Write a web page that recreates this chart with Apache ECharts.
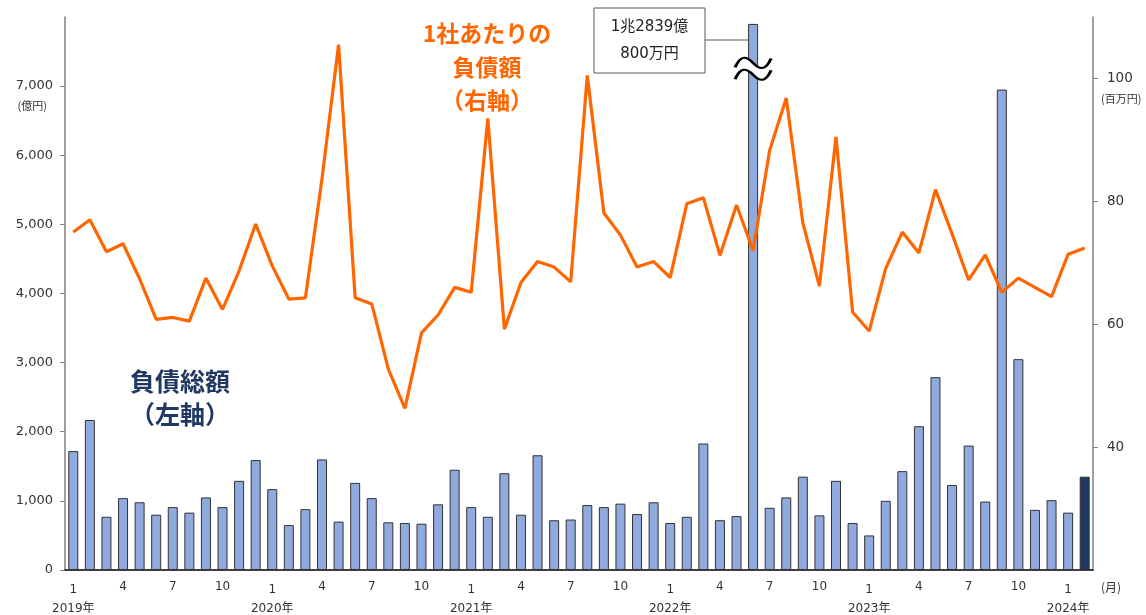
<!DOCTYPE html>
<html>
<head>
<meta charset="utf-8">
<script src="https://cdn.jsdelivr.net/npm/echarts@6/dist/echarts.min.js"></script>
<style>
  html, body { margin: 0; padding: 0; background: #fff; }
  #chart { width: 1146px; height: 615px; }
</style>
</head>
<body>
<div id="chart"></div>
<script>
const categories = [
  '2019-1','2019-2','2019-3','2019-4','2019-5','2019-6','2019-7','2019-8','2019-9','2019-10','2019-11','2019-12',
  '2020-1','2020-2','2020-3','2020-4','2020-5','2020-6','2020-7','2020-8','2020-9','2020-10','2020-11','2020-12',
  '2021-1','2021-2','2021-3','2021-4','2021-5','2021-6','2021-7','2021-8','2021-9','2021-10','2021-11','2021-12',
  '2022-1','2022-2','2022-3','2022-4','2022-5','2022-6','2022-7','2022-8','2022-9','2022-10','2022-11','2022-12',
  '2023-1','2023-2','2023-3','2023-4','2023-5','2023-6','2023-7','2023-8','2023-9','2023-10','2023-11','2023-12',
  '2024-1','2024-2'
];

// 負債総額 (億円), left axis
const debtTotal = [
  1720, 2170, 770, 1040, 980, 800, 910, 830, 1050, 910, 1290, 1590,
  1170, 650, 880, 1600, 700, 1260, 1040, 690, 680, 670, 950, 1450,
  910, 770, 1400, 800, 1660, 720, 730, 940, 910, 960, 810, 980,
  680, 770, 1830, 720, 780, 12839.08, 900, 1050, 1350, 790, 1290, 680,
  500, 1000, 1430, 2080, 2790, 1230, 1800, 990, 6950, 3050, 870, 1010,
  830, 1350
];

// 1社あたりの負債額 (百万円), right axis
const debtPerCompany = [
  75.0, 77.0, 71.8, 73.1, 67.4, 60.8, 61.1, 60.5, 67.5, 62.4, 68.7, 76.3,
  69.5, 64.1, 64.3, 83.7, 105.5, 64.3, 63.3, 52.7, 46.3, 58.6, 61.5, 66.0,
  65.2, 93.5, 59.2, 66.8, 70.2, 69.3, 66.9, 100.5, 78.1, 74.5, 69.3, 70.2,
  67.6, 79.6, 80.6, 71.2, 79.4, 72.0, 88.3, 96.8, 76.5, 66.2, 90.5, 62.0,
  58.9, 69.1, 75.0, 71.6, 81.9, 74.7, 67.2, 71.3, 65.2, 67.5, 66.0, 64.5,
  71.4, 72.4
];

const leftTicks = [0, 1000, 2000, 3000, 4000, 5000, 6000, 7000];
const rightTicks = [40, 60, 80, 100];
const monthTicks = [1, 4, 7, 10];

// the broken bar is drawn up to this height
const breakCap = 7900;
const breakIndex = debtTotal.findIndex(v => v > breakCap);
const latestIndex = debtTotal.length - 1;

const font = "'DejaVu Sans', 'Noto Sans CJK JP', sans-serif";
const cjk = "'Noto Sans CJK JP', sans-serif";

const barData = debtTotal.map((v, i) => {
  const item = { value: Math.min(v, breakCap) };
  if (i === latestIndex) item.itemStyle = { color: '#1F3864' };
  return item;
});

const chart = echarts.init(document.getElementById('chart'));

const wave = 'M0 10 C6 2 12 2 20 7 C28 12 34 12 40 4';
const waveLow = 'M0 18 C6 10 12 10 20 15 C28 20 34 20 40 12';
const band = 'path://M0 10 C6 2 12 2 20 7 C28 12 34 12 40 4 L40 12 C34 20 28 20 20 15 C12 10 6 10 0 18 Z';

chart.setOption({
  animation: false,
  grid: { left: 65, right: 53, top: 17, bottom: 45 },
  xAxis: {
    type: 'category',
    data: categories,
    boundaryGap: true,
    name: '(月)',
    nameLocation: 'end',
    nameGap: 8,
    nameTextStyle: { color: '#333', fontSize: 12, fontFamily: cjk, verticalAlign: 'top', padding: [11, 0, 0, 0] },
    axisLine: { lineStyle: { color: '#000', width: 1.5 } },
    axisTick: { show: false },
    axisLabel: {
      margin: 7,
      interval: (i, name) => monthTicks.includes(+name.split('-')[1]),
      formatter: name => {
        const [y, m] = name.split('-');
        return m === '1' ? `{m|1}\n{y|${y}年}` : `{n|${m}}`;
      },
      rich: {
        m: { fontSize: 12, lineHeight: 26, color: '#333', fontFamily: font },
        n: { fontSize: 12, lineHeight: 20, color: '#333', fontFamily: font },
        y: { fontSize: 12, lineHeight: 12, color: '#333', fontFamily: font }
      }
    }
  },
  yAxis: [
    {
      type: 'value',
      min: 0, max: 8000, interval: 1000,
      axisLine: { show: true, lineStyle: { color: '#808080', width: 1.5 } },
      axisTick: { show: true, length: 5, customValues: leftTicks, lineStyle: { color: '#808080' } },
      splitLine: { show: false },
      axisLabel: {
        margin: 12, fontSize: 13, color: '#333', fontFamily: font,
        customValues: leftTicks,
        formatter: v => v.toLocaleString('en-US')
      }
    },
    {
      type: 'value',
      min: 20, max: 110, interval: 20,
      position: 'right',
      axisLine: { show: true, lineStyle: { color: '#808080', width: 1.5 } },
      axisTick: { show: true, length: 5, customValues: rightTicks, lineStyle: { color: '#808080' } },
      splitLine: { show: false },
      axisLabel: {
        margin: 14, fontSize: 13.5, color: '#333', fontFamily: font,
        customValues: rightTicks
      }
    }
  ],
  series: [
    {
      name: '負債総額',
      type: 'bar',
      data: barData,
      barWidth: 10,
      itemStyle: { color: '#8FAADC', borderColor: '#333', borderWidth: 1 },
      markPoint: {
        silent: true,
        label: { show: false },
        data: [
          {
            coord: [breakIndex, 7250], symbol: band, symbolSize: [36, 22],
            itemStyle: { color: '#fff', borderWidth: 0 }
          },
          {
            coord: [breakIndex, 7250], symbol: 'path://' + wave + ' ' + waveLow, symbolSize: [36, 22],
            itemStyle: { color: 'rgba(0,0,0,0)', borderColor: '#000', borderWidth: 2.5 }
          }
        ]
      }
    },
    {
      name: '1社あたりの負債額',
      type: 'line',
      yAxisIndex: 1,
      data: debtPerCompany,
      symbol: 'none',
      z: 5,
      lineStyle: { color: '#FF6600', width: 3.2 }
    }
  ]
});

// annotations placed from the axes
const yLeft = v => chart.convertToPixel({ yAxisIndex: 0 }, v);
const yRight = v => chart.convertToPixel({ yAxisIndex: 1 }, v);
const xAt = i => chart.convertToPixel({ xAxisIndex: 0 }, i);
const barLeft = xAt(breakIndex) - 5;

chart.setOption({
  graphic: [
    { type: 'text', x: 47, y: yLeft(7000) + 20,
      style: { text: '(億円)', font: '11px ' + cjk, fill: '#333', align: 'right', verticalAlign: 'middle' } },
    { type: 'text', x: 1101, y: yRight(100) + 20,
      style: { text: '(百万円)', font: '11px ' + cjk, fill: '#333', align: 'left', verticalAlign: 'middle' } },
    { type: 'rect', shape: { x: 594, y: 8, width: 111, height: 65 },
      style: { fill: '#fff', stroke: '#595959', lineWidth: 1 } },
    { type: 'text', x: 649.5, y: 27,
      style: { text: '1兆2839億', font: '15px ' + font, fill: '#222', align: 'center', verticalAlign: 'middle' } },
    { type: 'text', x: 649.5, y: 54,
      style: { text: '800万円', font: '15px ' + font, fill: '#222', align: 'center', verticalAlign: 'middle' } },
    { type: 'line', shape: { x1: 705, y1: 40, x2: barLeft, y2: 40 },
      style: { stroke: '#595959', lineWidth: 1 } },
    { type: 'text', x: 487, y: 33,
      style: { text: '1社あたりの', font: 'bold 23px ' + cjk, fill: '#FF6600', align: 'center', verticalAlign: 'middle' } },
    { type: 'text', x: 487, y: 67,
      style: { text: '負債額', font: 'bold 23px ' + cjk, fill: '#FF6600', align: 'center', verticalAlign: 'middle' } },
    { type: 'text', x: 487, y: 100,
      style: { text: '（右軸）', font: 'bold 23px ' + cjk, fill: '#FF6600', align: 'center', verticalAlign: 'middle' } },
    { type: 'text', x: 180, y: 381,
      style: { text: '負債総額', font: 'bold 25px ' + cjk, fill: '#1F3864', align: 'center', verticalAlign: 'middle' } },
    { type: 'text', x: 180, y: 414,
      style: { text: '（左軸）', font: 'bold 25px ' + cjk, fill: '#1F3864', align: 'center', verticalAlign: 'middle' } }
  ]
});
</script>
</body>
</html>
